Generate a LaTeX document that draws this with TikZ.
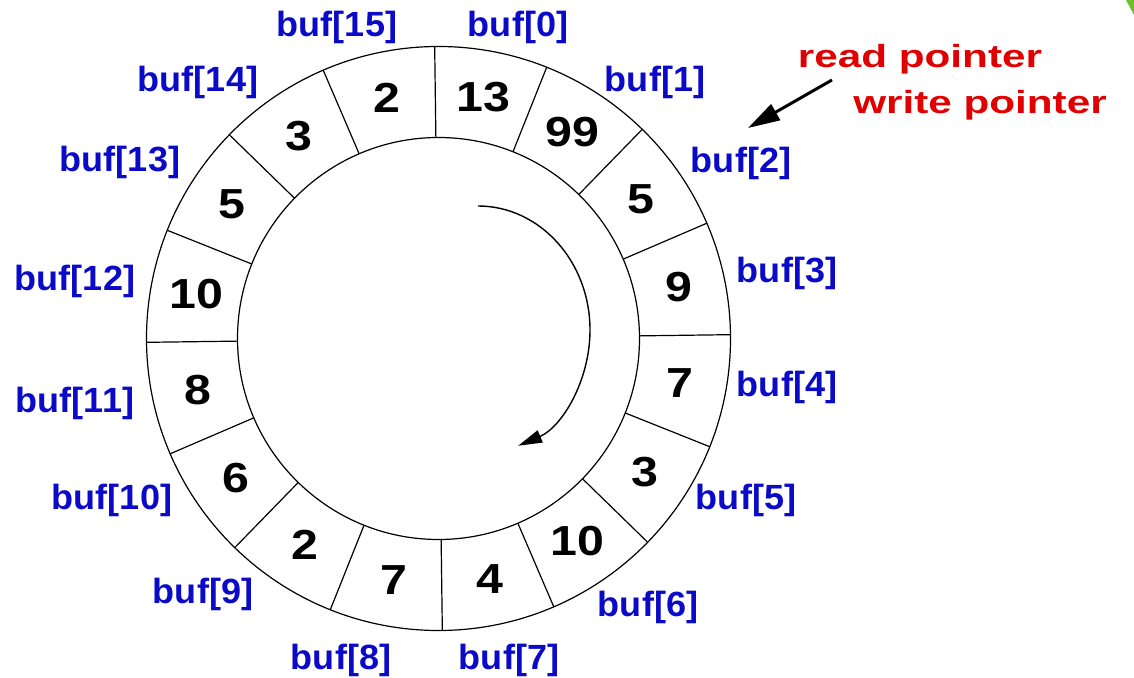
\documentclass[tikz,border=0pt]{standalone}
\usepackage{fontspec}
\setmainfont{Liberation Sans}
\usetikzlibrary{calc,arrows.meta}
\definecolor{labblue}{RGB}{10,10,200}
\definecolor{ptrred}{RGB}{225,0,0}
\definecolor{cornergreen}{RGB}{110,190,40}
\begin{document}
\begin{tikzpicture}[x=1pt,y=1pt,
  ring/.style={line width=1.2pt, black},
  numtext/.style={font=\fontsize{42}{42}\selectfont\bfseries, inner sep=0pt},
  buflabel/.style={font=\fontsize{35}{35}\selectfont\bfseries, text=labblue, inner sep=0pt},
  ptrtext/.style={font=\fontsize{32}{32}\selectfont\bfseries, text=ptrred, inner sep=0pt},
]
\useasboundingbox (0,0) rectangle (1134,677);
\fill[white] (0,0) rectangle (1134,677);
\coordinate (C) at (438.5,338.5);
\draw[ring] (C) circle[radius=292pt];
\draw[ring] (C) circle[radius=201pt];
\foreach \i in {0,...,15} {
  \draw[ring] ($(C)+({90.75-22.5*\i}:201pt)$) -- ($(C)+({90.75-22.5*\i}:292pt)$);
}
\foreach \v [count=\i from 0] in {13,99,5,9,7,3,10,4,7,2,6,8,10,5,3,2} {
  \node[numtext] (n\i) at ($(C)+({79.5-22.5*\i}:246pt)$) {\scalebox{1.15}[1]{\v}};
}
% buffer labels
\node[buflabel] (l0)  at (518,650) {\scalebox{1.03}[1]{buf[0]}};
\node[buflabel] (l1)  at (655,595) {\scalebox{1.03}[1]{buf[1]}};
\node[buflabel] (l2)  at (741,514) {\scalebox{1.03}[1]{buf[2]}};
\node[buflabel] (l3)  at (787,404) {\scalebox{1.03}[1]{buf[3]}};
\node[buflabel] (l4)  at (787,290) {\scalebox{1.03}[1]{buf[4]}};
\node[buflabel] (l5)  at (746,177) {\scalebox{1.03}[1]{buf[5]}};
\node[buflabel] (l6)  at (648,70)  {\scalebox{1.03}[1]{buf[6]}};
\node[buflabel] (l7)  at (509,17)  {\scalebox{1.03}[1]{buf[7]}};
\node[buflabel] (l8)  at (341,17)  {\scalebox{1.03}[1]{buf[8]}};
\node[buflabel] (l9)  at (203,83)  {\scalebox{1.03}[1]{buf[9]}};
\node[buflabel] (l10) at (112,177) {\scalebox{1.03}[1]{buf[10]}};
\node[buflabel] (l11) at (75,274)  {\scalebox{1.03}[1]{buf[11]}};
\node[buflabel] (l12) at (75,396)  {\scalebox{1.03}[1]{buf[12]}};
\node[buflabel] (l13) at (120,515) {\scalebox{1.03}[1]{buf[13]}};
\node[buflabel] (l14) at (198,595) {\scalebox{1.03}[1]{buf[14]}};
\node[buflabel] (l15) at (337,650) {\scalebox{1.03}[1]{buf[15]}};
% pointer
\node[ptrtext] (rp) at (920,618) {\scalebox{1.32}[1]{read pointer}};
\node[ptrtext] (wp) at (980,572) {\scalebox{1.32}[1]{write pointer}};
\coordinate (ptrstart) at (832,597);
\coordinate (ptrtip) at (748,549);
\draw[line width=3pt, -{Triangle[length=32pt,width=18pt]}] (ptrstart) -- (ptrtip);
% direction arrow
\coordinate (arcstart) at (478,471);
\draw[line width=1.4pt, -{Triangle[length=24pt,width=13pt]}] (arcstart) arc[start angle=90, end angle=-69, x radius=112pt, y radius=124pt];
% green corner
\fill[cornergreen] (1126,677) -- (1134,677) -- (1134,662) -- cycle;
\end{tikzpicture}
\end{document}
